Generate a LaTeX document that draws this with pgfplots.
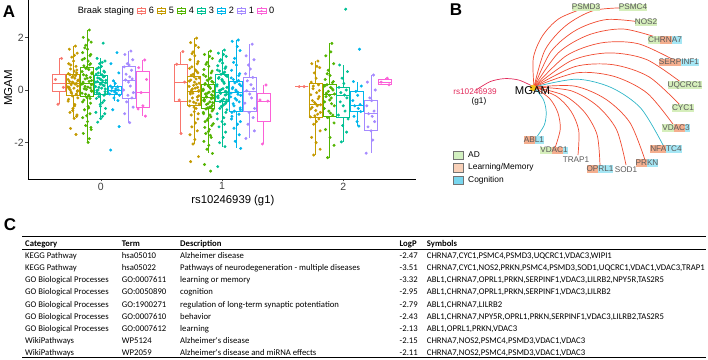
\documentclass[border=0pt]{standalone}
\usepackage{pgfplots}
\pgfplotsset{compat=1.18}
\usepgfplotslibrary{statistics}
\usepackage{fontspec}
\setmainfont{Liberation Sans}
\newfontfamily\tfont{Carlito}
\definecolor{c6}{HTML}{F8766D}
\definecolor{c5}{HTML}{C49A00}
\definecolor{c4}{HTML}{53B400}
\definecolor{c3}{HTML}{00C094}
\definecolor{c2}{HTML}{00B6EB}
\definecolor{c1}{HTML}{A58AFF}
\definecolor{c0}{HTML}{FB61D7}
\definecolor{edgeR}{HTML}{F04A30}
\definecolor{edgeC}{HTML}{2EB6C8}
\definecolor{rsR}{HTML}{E2295A}
\definecolor{hubY}{HTML}{F6C21A}
\definecolor{bgG}{HTML}{D5EEBB}
\definecolor{bgO}{HTML}{F4AE8E}
\definecolor{bgC}{HTML}{A5E6F4}
\definecolor{lgG}{HTML}{D2F0C0}
\definecolor{lgO}{HTML}{F8D0B8}
\definecolor{lgC}{HTML}{78D6EE}
\definecolor{gtxt}{HTML}{5A5A5A}
\newcommand\seg[2]{{\setlength{\fboxsep}{0pt}\colorbox{#1}{\rule[-1.7bp]{0pt}{7.6bp}#2}}}
\newcommand\fs[1]{\fontsize{#1bp}{#1bp}\selectfont}
\pgfplotsset{
  bx/.style={forget plot, draw=#1, fill=white, line width=0.55bp, solid, mark=none},
  pt/.style={forget plot, only marks, mark=*, mark size=1.3bp, color=#1, mark options={draw=none, fill=#1}},
}
\begin{document}
\begin{tikzpicture}
%================ Panel A =================
\begin{axis}[
  at={(28bp,181bp)}, anchor=south west, scale only axis,
  width=388bp, height=179bp,
  xmin=-0.6, xmax=2.6, ymin=-3.38, ymax=3.42,
  axis x line*=bottom, axis y line*=left,
  axis line style={-, line width=0.6bp, black},
  xtick={0,1,2}, ytick={-2,0,2},
  tick align=outside, major tick length=2.5bp,
  tick style={line width=0.5bp, black!70},
  ticklabel style={font=\fs{10.5}, text=black!75},
  xticklabel style={inner sep=1bp},
  yticklabel style={inner sep=1.5bp},
  /pgf/number format/assume math mode=true,
  xlabel={rs10246939 (g1)}, ylabel={MGAM},
  xlabel style={at={(axis description cs:0.528,-0.121)}, anchor=center, font=\fs{11.3}},
  ylabel style={at={(axis description cs:-0.051,0.51)}, anchor=center, font=\fs{11.5}},
  clip=false,
  boxplot/draw direction=y,
  boxplot/box extend=0.107, boxplot/whisker extend=0,
  legend columns=-1,
  legend style={at={(axis description cs:0.12,0.9385)}, anchor=west, draw=none, fill=none,
    font=\fs{9.2}, inner sep=0pt, column sep=2.5bp, nodes={inner sep=0.5bp}},
  legend image code/.code={%
    \draw[#1,line width=0.5bp,fill=white] (0bp,-2.6bp) rectangle (8.4bp,2.6bp);
    \draw[#1,line width=0.5bp] (0bp,0bp)--(8.4bp,0bp) (4.2bp,2.6bp)--(4.2bp,4.2bp) (4.2bp,-2.6bp)--(4.2bp,-4.2bp);
    \fill[#1] (4.2bp,0bp) circle (0.9bp);},
]
\addlegendimage{empty legend}\addlegendentry{Braak staging\hspace{2bp}}
\addlegendimage{color=c6}\addlegendentry{6\hspace{2bp}}
\addlegendimage{color=c5}\addlegendentry{5\hspace{2bp}}
\addlegendimage{color=c4}\addlegendentry{4\hspace{2bp}}
\addlegendimage{color=c3}\addlegendentry{3\hspace{2bp}}
\addlegendimage{color=c2}\addlegendentry{2\hspace{2bp}}
\addlegendimage{color=c1}\addlegendentry{1\hspace{2bp}}
\addlegendimage{color=c0}\addlegendentry{0}
% ---- boxes, group 0
\addplot[bx=c6, boxplot prepared={draw position=-0.343, lower whisker=-0.54, lower quartile=-0.06, median=0.27, upper quartile=0.61, upper whisker=1.2}] coordinates {};
\addplot[bx=c5, boxplot prepared={draw position=-0.229, lower whisker=-1.08, lower quartile=-0.19, median=0.25, upper quartile=0.6, upper whisker=1.67}] coordinates {};
\addplot[bx=c4, boxplot prepared={draw position=-0.114, lower whisker=-1.99, lower quartile=-0.22, median=0.25, upper quartile=0.85, upper whisker=2.28}] coordinates {};
\addplot[bx=c3, boxplot prepared={draw position=0, lower whisker=-1.08, lower quartile=-0.15, median=0.29, upper quartile=0.55, upper whisker=1.2}] coordinates {};
\addplot[bx=c2, boxplot prepared={draw position=0.114, lower whisker=-0.4, lower quartile=-0.15, median=0.0, upper quartile=0.15, upper whisker=0.35}] coordinates {};
\addplot[bx=c1, boxplot prepared={draw position=0.229, lower whisker=-1.24, lower quartile=-0.32, median=0.38, upper quartile=0.91, upper whisker=1.48}] coordinates {};
\addplot[bx=c0, boxplot prepared={draw position=0.343, lower whisker=-0.99, lower quartile=-0.66, median=-0.1, upper quartile=0.72, upper whisker=1.14}] coordinates {};
% ---- boxes, group 1
\addplot[bx=c6, boxplot prepared={draw position=0.657, lower whisker=-1.65, lower quartile=-0.41, median=0.3, upper quartile=0.98, upper whisker=1.46}] coordinates {};
\addplot[bx=c5, boxplot prepared={draw position=0.771, lower whisker=-2.05, lower quartile=-0.57, median=-0.03, upper quartile=0.51, upper whisker=1.97}] coordinates {};
\addplot[bx=c4, boxplot prepared={draw position=0.886, lower whisker=-2.41, lower quartile=-0.7, median=-0.29, upper quartile=0.22, upper whisker=1.48}] coordinates {};
\addplot[bx=c3, boxplot prepared={draw position=1.0, lower whisker=-2.15, lower quartile=-0.44, median=-0.1, upper quartile=0.6, upper whisker=1.52}] coordinates {};
\addplot[bx=c2, boxplot prepared={draw position=1.114, lower whisker=-2.22, lower quartile=-0.82, median=-0.1, upper quartile=0.35, upper whisker=1.9}] coordinates {};
\addplot[bx=c1, boxplot prepared={draw position=1.229, lower whisker=-1.84, lower quartile=-0.82, median=-0.03, upper quartile=0.48, upper whisker=1.74}] coordinates {};
\addplot[bx=c0, boxplot prepared={draw position=1.343, lower whisker=-2.05, lower quartile=-1.2, median=-0.41, upper quartile=-0.13, upper whisker=0.19}] coordinates {};
% ---- boxes, group 2
\addplot[bx=c6, boxplot prepared={draw position=1.657, lower whisker=0.13, lower quartile=0.13, median=0.13, upper quartile=0.13, upper whisker=0.13}] coordinates {};
\addplot[bx=c5, boxplot prepared={draw position=1.771, lower whisker=-2.47, lower quartile=-1.05, median=-0.55, upper quartile=0.25, upper whisker=1.1}] coordinates {};
\addplot[bx=c4, boxplot prepared={draw position=1.886, lower whisker=-2.57, lower quartile=-0.99, median=-0.18, upper quartile=0.22, upper whisker=1.77}] coordinates {};
\addplot[bx=c3, boxplot prepared={draw position=2.0, lower whisker=-1.97, lower quartile=-1.04, median=-0.19, upper quartile=0.09, upper whisker=0.95}] coordinates {};
\addplot[bx=c2, boxplot prepared={draw position=2.114, lower whisker=-1.37, lower quartile=-0.82, median=-0.57, upper quartile=-0.03, upper whisker=0.32}] coordinates {};
\addplot[bx=c1, boxplot prepared={draw position=2.229, lower whisker=-2.4, lower quartile=-1.52, median=-0.87, upper quartile=-0.38, upper whisker=0.57}] coordinates {};
\addplot[bx=c0, boxplot prepared={draw position=2.343, lower whisker=0.2, lower quartile=0.2, median=0.3, upper quartile=0.4, upper whisker=0.45}] coordinates {};
% ---- points, group 0
\addplot[pt=c6] coordinates {(-0.323,1.2) (-0.373,0.4) (-0.308,0.1) (-0.353,-0.54)};
\addplot[pt=c5] coordinates {(-0.209,1.67) (-0.259,1.55) (-0.194,1.4) (-0.239,1.25) (-0.224,1.1) (-0.264,1.0) (-0.204,0.9) (-0.249,0.8) (-0.219,0.72) (-0.199,0.65) (-0.254,0.58) (-0.229,0.52) (-0.214,0.45) (-0.269,0.4) (-0.189,0.35) (-0.234,0.3) (-0.201,0.25) (-0.244,0.2) (-0.191,0.15) (-0.261,0.1) (-0.261,0.05) (-0.191,-0.02) (-0.244,-0.08) (-0.201,-0.15) (-0.234,-0.22) (-0.189,-0.3) (-0.269,-0.42) (-0.214,-0.55) (-0.229,-0.7) (-0.254,-0.85) (-0.199,-1.0) (-0.219,-1.08) (-0.249,-1.46) (-0.204,-1.69)};
\addplot[pt=c5] coordinates {(-0.217,1.32) (-0.247,0.95) (-0.197,0.76) (-0.267,0.62) (-0.207,0.55) (-0.237,0.48) (-0.187,0.38) (-0.257,0.32) (-0.227,0.27) (-0.211,0.22) (-0.271,0.12) (-0.221,0.07) (-0.251,0.0) (-0.193,-0.05) (-0.241,-0.12) (-0.203,-0.18) (-0.265,-0.35) (-0.215,-0.6) (-0.231,-0.78) (-0.196,-0.95)};
\addplot[pt=c4] coordinates {(-0.094,2.28) (-0.144,2.0) (-0.079,1.82) (-0.124,1.7) (-0.109,1.55) (-0.149,1.42) (-0.089,1.3) (-0.134,1.2) (-0.104,1.1) (-0.084,1.0) (-0.139,0.92) (-0.114,0.86) (-0.099,0.78) (-0.154,0.7) (-0.074,0.62) (-0.119,0.55) (-0.086,0.48) (-0.129,0.42) (-0.076,0.36) (-0.146,0.3) (-0.146,0.25) (-0.076,0.2) (-0.129,0.14) (-0.086,0.08) (-0.119,0.02) (-0.074,-0.05) (-0.154,-0.12) (-0.099,-0.2) (-0.114,-0.28) (-0.139,-0.38) (-0.084,-0.5) (-0.104,-0.62) (-0.134,-0.75) (-0.089,-0.9) (-0.149,-1.05) (-0.109,-1.2) (-0.124,-1.35) (-0.079,-1.5) (-0.144,-1.65) (-0.094,-1.85) (-0.104,-1.99)};
\addplot[pt=c4] coordinates {(-0.102,1.9) (-0.132,1.6) (-0.082,1.35) (-0.152,1.15) (-0.092,0.96) (-0.122,0.82) (-0.072,0.66) (-0.142,0.58) (-0.112,0.45) (-0.096,0.33) (-0.156,0.22) (-0.106,0.11) (-0.136,0.05) (-0.078,-0.02) (-0.126,-0.16) (-0.088,-0.32) (-0.150,-0.45) (-0.100,-0.68) (-0.116,-0.98) (-0.081,-1.42)};
\addplot[pt=c3] coordinates {(0.02,1.78) (-0.03,1.2) (0.035,1.1) (-0.01,1.0) (0.005,0.9) (-0.035,0.8) (0.025,0.72) (-0.02,0.65) (0.01,0.58) (0.03,0.52) (-0.025,0.46) (0,0.4) (0.015,0.35) (-0.04,0.3) (0.04,0.27) (-0.005,0.22) (0.028,0.16) (-0.015,0.1) (0.038,0.04) (-0.032,-0.02) (-0.032,-0.1) (0.038,-0.15) (-0.015,-0.25) (0.028,-0.4) (-0.005,-0.55) (0.04,-0.7) (-0.04,-0.85) (0.015,-1.0) (0,-1.08) (-0.025,-1.22)};
\addplot[pt=c3] coordinates {(0.012,1.05) (-0.018,0.85) (0.032,0.68) (-0.038,0.6) (0.022,0.5) (-0.008,0.43) (0.042,0.37) (-0.028,0.32) (0.002,0.25) (0.018,0.19) (-0.042,0.13) (0.008,0.07) (-0.022,0.0) (0.036,-0.06) (-0.012,-0.13) (0.026,-0.2) (-0.036,-0.32) (0.014,-0.48) (-0.002,-0.62) (0.033,-0.9)};
\addplot[pt=c2] coordinates {(0.134,1.42) (0.084,1.0) (0.149,0.65) (0.104,0.35) (0.119,0.25) (0.079,0.15) (0.139,0.12) (0.094,0.08) (0.124,0.04) (0.144,0.0) (0.089,-0.03) (0.114,-0.07) (0.129,-0.12) (0.074,-0.15) (0.154,-0.2) (0.109,-0.3) (0.142,-0.4) (0.099,-0.75) (0.152,-1.39) (0.082,-2.28)};
\addplot[pt=c1] coordinates {(0.249,1.48) (0.199,1.35) (0.264,1.15) (0.219,1.0) (0.234,0.95) (0.194,0.88) (0.254,0.75) (0.209,0.6) (0.239,0.5) (0.259,0.42) (0.204,0.38) (0.229,0.3) (0.244,0.15) (0.189,0.0) (0.269,-0.1) (0.224,-0.2) (0.257,-0.3) (0.214,-0.45) (0.267,-0.65) (0.197,-0.9) (0.239,-1.24)};
\addplot[pt=c0] coordinates {(0.363,1.14) (0.313,0.85) (0.378,0.4) (0.333,-0.1) (0.348,-0.6) (0.308,-0.72) (0.368,-0.99)};
% ---- points, group 1
\addplot[pt=c6] coordinates {(0.677,1.46) (0.627,0.98) (0.692,0.3) (0.647,-0.38) (0.662,-1.65)};
\addplot[pt=c5] coordinates {(0.791,1.97) (0.741,1.8) (0.806,1.62) (0.761,1.45) (0.776,1.3) (0.736,1.15) (0.796,1.0) (0.751,0.88) (0.781,0.76) (0.801,0.65) (0.746,0.56) (0.771,0.5) (0.786,0.42) (0.731,0.34) (0.811,0.26) (0.766,0.18) (0.799,0.1) (0.756,0.04) (0.809,-0.02) (0.739,-0.08) (0.739,-0.15) (0.809,-0.22) (0.756,-0.3) (0.799,-0.38) (0.766,-0.46) (0.811,-0.53) (0.731,-0.6) (0.786,-0.7) (0.771,-0.82) (0.746,-0.95) (0.801,-1.1) (0.781,-1.25) (0.751,-1.4) (0.796,-1.55) (0.736,-1.7) (0.776,-1.88) (0.761,-2.05) (0.806,-2.53) (0.741,-2.72)};
\addplot[pt=c5] coordinates {(0.783,1.7) (0.753,1.38) (0.803,1.08) (0.733,0.82) (0.793,0.7) (0.763,0.6) (0.813,0.46) (0.743,0.38) (0.773,0.3) (0.789,0.22) (0.729,0.14) (0.779,0.07) (0.749,0.0) (0.807,-0.05) (0.759,-0.12) (0.797,-0.26) (0.735,-0.42) (0.785,-0.5) (0.769,-0.65) (0.804,-0.9)};
\addplot[pt=c4] coordinates {(0.906,1.48) (0.856,1.35) (0.921,1.2) (0.876,1.05) (0.891,0.9) (0.851,0.78) (0.911,0.65) (0.866,0.52) (0.896,0.42) (0.916,0.33) (0.861,0.25) (0.886,0.18) (0.901,0.1) (0.846,0.03) (0.926,-0.05) (0.881,-0.12) (0.914,-0.18) (0.871,-0.24) (0.924,-0.3) (0.854,-0.36) (0.854,-0.42) (0.924,-0.48) (0.871,-0.55) (0.914,-0.62) (0.881,-0.68) (0.926,-0.75) (0.846,-0.85) (0.901,-0.95) (0.886,-1.08) (0.861,-1.2) (0.916,-1.35) (0.896,-1.5) (0.866,-1.65) (0.911,-1.8) (0.851,-1.95) (0.891,-2.1) (0.876,-2.25) (0.921,-2.41) (0.856,-2.83) (0.906,-3.08)};
\addplot[pt=c4] coordinates {(0.898,1.28) (0.868,0.98) (0.918,0.72) (0.848,0.58) (0.908,0.46) (0.878,0.37) (0.928,0.29) (0.858,0.21) (0.888,0.14) (0.904,0.06) (0.844,-0.02) (0.894,-0.08) (0.864,-0.15) (0.922,-0.21) (0.874,-0.27) (0.912,-0.33) (0.850,-0.39) (0.900,-0.45) (0.884,-0.52) (0.919,-0.58) (0.898,-0.65) (0.868,-0.72) (0.918,-0.8) (0.848,-0.9) (0.908,-1.02) (0.878,-1.14) (0.928,-1.28) (0.858,-1.42) (0.888,-1.58) (0.904,-1.72)};
\addplot[pt=c3] coordinates {(1.02,1.52) (0.97,1.4) (1.035,1.28) (0.99,1.15) (1.005,1.02) (0.965,0.92) (1.025,0.82) (0.98,0.72) (1.01,0.64) (1.03,0.56) (0.975,0.48) (1.0,0.4) (1.015,0.3) (0.96,0.2) (1.04,0.1) (0.995,0.02) (1.028,-0.05) (0.985,-0.1) (1.038,-0.16) (0.968,-0.22) (0.968,-0.3) (1.038,-0.38) (0.985,-0.44) (1.028,-0.52) (0.995,-0.62) (1.04,-0.75) (0.96,-0.9) (1.015,-1.05) (1.0,-1.2) (0.975,-1.4) (1.03,-1.6) (1.01,-1.8) (0.98,-2.0) (1.025,-2.15) (0.965,-2.91)};
\addplot[pt=c3] coordinates {(1.012,1.35) (0.982,1.1) (1.032,0.88) (0.962,0.76) (1.022,0.68) (0.992,0.6) (1.042,0.52) (0.972,0.44) (1.002,0.35) (1.018,0.25) (0.958,0.15) (1.008,0.05) (0.978,-0.02) (1.036,-0.07) (0.988,-0.13) (1.026,-0.19) (0.964,-0.26) (1.014,-0.34) (0.998,-0.4) (1.033,-0.48) (1.012,-0.57) (0.982,-0.7) (1.032,-0.85) (0.962,-1.1) (1.022,-1.3)};
\addplot[pt=c2] coordinates {(1.134,1.9) (1.084,1.85) (1.149,1.5) (1.104,1.2) (1.119,0.95) (1.079,0.75) (1.139,0.55) (1.094,0.4) (1.124,0.32) (1.144,0.22) (1.089,0.1) (1.114,0.0) (1.129,-0.08) (1.074,-0.12) (1.154,-0.2) (1.109,-0.32) (1.142,-0.45) (1.099,-0.6) (1.152,-0.75) (1.082,-0.85) (1.082,-1.0) (1.152,-1.2) (1.099,-1.45) (1.142,-1.7) (1.109,-1.95) (1.154,-2.22)};
\addplot[pt=c2] coordinates {(1.126,1.65) (1.096,1.05) (1.146,0.62) (1.076,0.46) (1.136,0.36) (1.106,0.27) (1.156,0.16) (1.086,0.05) (1.116,-0.04) (1.132,-0.16) (1.072,-0.26) (1.122,-0.38) (1.092,-0.52) (1.150,-0.68) (1.102,-0.8) (1.140,-0.92) (1.078,-1.1) (1.128,-1.3)};
\addplot[pt=c1] coordinates {(1.249,1.74) (1.199,1.3) (1.264,1.15) (1.219,0.95) (1.234,0.8) (1.194,0.62) (1.254,0.48) (1.209,0.35) (1.239,0.2) (1.259,0.05) (1.204,-0.03) (1.229,-0.15) (1.244,-0.3) (1.189,-0.5) (1.269,-0.7) (1.224,-0.85) (1.257,-1.05) (1.214,-1.3) (1.267,-1.55) (1.197,-1.84)};
\addplot[pt=c0] coordinates {(1.363,0.19) (1.313,-0.38) (1.378,-0.42) (1.333,-2.05)};
% ---- points, group 2
\addplot[pt=c6] coordinates {(1.677,0.13) (1.637,0.13)};
\addplot[pt=c5] coordinates {(1.791,1.1) (1.741,1.0) (1.806,0.85) (1.761,0.65) (1.776,0.45) (1.736,0.3) (1.796,0.2) (1.751,0.05) (1.781,-0.1) (1.801,-0.25) (1.746,-0.4) (1.771,-0.52) (1.786,-0.6) (1.731,-0.72) (1.811,-0.85) (1.766,-0.98) (1.799,-1.1) (1.756,-1.3) (1.809,-1.55) (1.739,-1.8) (1.776,-2.0) (1.809,-2.25) (1.756,-2.47)};
\addplot[pt=c5] coordinates {(1.783,0.9) (1.753,0.15) (1.803,-0.02) (1.733,-0.18) (1.793,-0.33) (1.763,-0.47) (1.813,-0.56) (1.743,-0.66) (1.773,-0.78) (1.789,-0.92) (1.729,-1.02) (1.779,-1.2)};
\addplot[pt=c4] coordinates {(1.906,1.77) (1.856,1.3) (1.921,1.0) (1.876,0.75) (1.891,0.55) (1.851,0.4) (1.911,0.28) (1.866,0.2) (1.896,0.1) (1.916,0.0) (1.861,-0.12) (1.886,-0.2) (1.901,-0.3) (1.846,-0.45) (1.926,-0.6) (1.881,-0.8) (1.914,-0.95) (1.871,-1.05) (1.924,-1.25) (1.854,-1.5) (1.891,-1.8) (1.924,-2.1) (1.871,-2.57)};
\addplot[pt=c4] coordinates {(1.898,1.45) (1.868,0.62) (1.918,0.32) (1.848,0.15) (1.908,0.05) (1.878,-0.05) (1.928,-0.15) (1.858,-0.25) (1.888,-0.38) (1.904,-0.52) (1.844,-0.7) (1.894,-0.88)};
\addplot[pt=c3] coordinates {(2.02,3.07) (1.97,0.95) (2.035,0.7) (1.99,0.45) (2.005,0.25) (1.965,0.1) (2.025,0.0) (1.98,-0.1) (2.01,-0.19) (2.03,-0.3) (1.975,-0.45) (2.0,-0.6) (2.015,-0.8) (1.96,-0.95) (2.04,-1.1) (1.995,-1.35) (2.028,-1.6) (1.985,-1.97)};
\addplot[pt=c2] coordinates {(2.134,1.55) (2.084,0.32) (2.149,0.15) (2.104,-0.05) (2.119,-0.2) (2.079,-0.4) (2.139,-0.55) (2.094,-0.6) (2.124,-0.7) (2.144,-0.82) (2.089,-1.0) (2.114,-1.2) (2.129,-1.37)};
\addplot[pt=c1] coordinates {(2.249,0.57) (2.199,0.3) (2.264,0.0) (2.219,-0.3) (2.234,-0.4) (2.194,-0.6) (2.254,-0.8) (2.209,-0.9) (2.239,-1.0) (2.259,-1.2) (2.204,-1.4) (2.229,-1.55) (2.244,-1.9) (2.189,-2.4)};
\addplot[pt=c0] coordinates {(2.363,0.45) (2.313,0.3) (2.378,0.2)};
\end{axis}
%================ Panel B (pixel coordinates) =================
\begin{axis}[
  at={(0bp,0bp)}, anchor=south west, scale only axis,
  width=708bp, height=360bp,
  xmin=0, xmax=708, ymin=0, ymax=360, y dir=reverse,
  hide axis, clip=false,
  legend style={at={(axis cs:453,150.5)}, anchor=north west, draw=none, fill=none,
    font=\fs{8.4}, inner sep=0pt, row sep=3.6bp, column sep=4bp, nodes={inner sep=0.5bp}},
  legend cell align=left,
  legend image code/.code={\draw[#1,line width=0.5bp] (0bp,-4.2bp) rectangle (10bp,4.2bp);},
]
\addlegendimage{draw=black!55, fill=lgG}\addlegendentry{AD}
\addlegendimage{draw=black!55, fill=lgO}\addlegendentry{Learning/Memory}
\addlegendimage{draw=black!55, fill=lgC}\addlegendentry{Cognition}
\pgfplotsset{edge/.style={forget plot, smooth, line width=0.7bp, color=#1}}
\addplot[edge=rsR] coordinates {(476,90) (490.1,81.65) (504.5,78.6) (519.1,80.15) (534,87)};
\addplot[edge=edgeR] coordinates {(534,87) (533.3,58.1) (542.5,35.8) (559.3,18.4) (586,7.5)};
\addplot[edge=edgeR] coordinates {(534,87) (545.0,50.0) (566,25.5) (594.5,10.3) (633,7.5)};
\addplot[edge=edgeR] coordinates {(534,87) (550.9,51.6) (575.9,30.2) (606.9,19.5) (646,22.7)};
\addplot[edge=edgeR] coordinates {(534,87) (558.6,52.6) (589.2,34.7) (624.1,29.1) (665,40)};
\addplot[edge=edgeR] coordinates {(534,87) (566.0,55.9) (601.2,42.9) (638.5,43.8) (679,62.7)};
\addplot[edge=edgeR] coordinates {(534,87) (571.4,60.6) (609.1,52.9) (646.9,59.7) (685,85.3)};
\addplot[edge=edgeR] coordinates {(534,87) (574.9,66.6) (613.1,64.7) (649.4,77.1) (683,108)};
\addplot[edge=edgeR] coordinates {(534,87) (576.6,72.8) (614.1,76.4) (647.6,93.5) (676,128.3)};
\addplot[edge=edgeC] coordinates {(534,87) (576.3,79.2) (611.3,87.6) (640.8,108.2) (663,145)};
\addplot[edge=edgeR] coordinates {(534,87) (574.4,86.1) (605.6,99.1) (629.9,122.6) (645,160)};
\addplot[edge=edgeR] coordinates {(534,87) (570.5,90.6) (597.2,105.8) (616.5,129.6) (626,165)};
\addplot[edge=edgeR] coordinates {(534,87) (564.1,95.4) (584.4,112) (597.1,134.9) (600,166)};
\addplot[edge=edgeR] coordinates {(534,87) (556.7,96.4) (571,111.3) (578.7,130.4) (578,155)};
\addplot[edge=edgeR] coordinates {(534,87) (549.75,98.65) (557.9,112.9) (560.25,129.15) (555,148)};
\addplot[edge=edgeC] coordinates {(534,87) (543.3,99.45) (546.2,112.1) (544.3,124.95) (536,138)};
\addplot[forget plot, only marks, mark=*, mark size=3bp, color=hubY] coordinates {(533,88)};
\end{axis}
%================ texts in pixel coordinates =================
\begin{scope}[x=1bp, y=-1bp, shift={(0bp,360bp)}]
\node[font=\fs{17}\bfseries] at (9,12) {A};
\node[font=\fs{17}\bfseries] at (456,9.5) {B};
\node[font=\fs{17}\bfseries] at (10,225) {C};
% network labels
\node[font=\fs{11.3}] at (532.5,91) {MGAM};
\node[font=\fs{8.2}, text=rsR] at (475,91.7) {rs10246939};
\node[font=\fs{8.2}] at (479,101.7) {(g1)};
\begin{scope}[every node/.style={font=\fs{8.2}, text=gtxt, inner sep=0pt}]
\node at (586,7.5) {\seg{bgG}{PSMD3}};
\node at (633,7.5) {\seg{bgG}{PSMC4}};
\node at (646,22.7) {\seg{bgG}{NOS2}};
\node at (665,40) {\seg{bgG}{CH}\seg{bgO}{RN}\seg{bgC}{A7}};
\node at (679,62.7) {\seg{bgO}{SERP}\seg{bgC}{INF1}};
\node at (685,85.3) {\seg{bgG}{UQCRC1}};
\node at (683,108) {\seg{bgG}{CYC1}};
\node at (676,128.3) {\seg{bgG}{VD}\seg{bgO}{AC}\seg{bgC}{3}};
\node at (666,149.3) {\seg{bgO}{NFA}\seg{bgC}{TC4}};
\node at (647,163.3) {\seg{bgO}{PR}\seg{bgC}{KN}};
\node at (626,170) {SOD1};
\node at (600,169.3) {\seg{bgO}{OP}\seg{bgC}{RL1}};
\node at (576,160) {TRAP1};
\node at (554,150.7) {\seg{bgG}{VD}\seg{bgO}{AC}\seg{bgC}{1}};
\node at (534,140) {\seg{bgO}{AB}\seg{bgC}{L1}};
\end{scope}
% table
\draw[line width=1.1bp] (22,236.8) -- (706,236.8);
\draw[line width=0.6bp] (22,249.6) -- (706,249.6);
\draw[line width=1.1bp] (22,357.8) -- (706,357.8);
\begin{scope}[every node/.style={anchor=base west, inner sep=0pt, font=\tfont\fs{8.7}}]
\node[font=\tfont\fs{8.7}\bfseries] at (25,247) {Category};
\node[font=\tfont\fs{8.7}\bfseries] at (121.7,247) {Term};
\node[font=\tfont\fs{8.7}\bfseries] at (180,247) {Description};
\node[font=\tfont\fs{8.7}\bfseries] at (399.5,247) {LogP};
\node[font=\tfont\fs{8.7}\bfseries] at (426.7,247) {Symbols};
\node at (25,258.3) {KEGG Pathway};
\node at (121.7,258.3) {hsa05010};
\node at (180,258.3) {Alzheimer disease};
\node at (399.5,258.3) {-2.47};
\node at (426.7,258.3) {CHRNA7,CYC1,PSMC4,PSMD3,UQCRC1,VDAC3,WIPI1};
\node at (25,270.5) {KEGG Pathway};
\node at (121.7,270.5) {hsa05022};
\node at (180,270.5) {Pathways of neurodegeneration - multiple diseases};
\node at (399.5,270.5) {-3.51};
\node at (426.7,270.5) {CHRNA7,CYC1,NOS2,PRKN,PSMC4,PSMD3,SOD1,UQCRC1,VDAC1,VDAC3,TRAP1};
\node at (25,282.7) {GO Biological Processes};
\node at (121.7,282.7) {GO:0007611};
\node at (180,282.7) {learning or memory};
\node at (399.5,282.7) {-3.32};
\node at (426.7,282.7) {ABL1,CHRNA7,OPRL1,PRKN,SERPINF1,VDAC3,LILRB2,NPY5R,TAS2R5};
\node at (25,294.9) {GO Biological Processes};
\node at (121.7,294.9) {GO:0050890};
\node at (180,294.9) {cognition};
\node at (399.5,294.9) {-2.95};
\node at (426.7,294.9) {ABL1,CHRNA7,OPRL1,PRKN,SERPINF1,VDAC3,LILRB2};
\node at (25,307.1) {GO Biological Processes};
\node at (121.7,307.1) {GO:1900271};
\node at (180,307.1) {regulation of long-term synaptic potentiation};
\node at (399.5,307.1) {-2.79};
\node at (426.7,307.1) {ABL1,CHRNA7,LILRB2};
\node at (25,319.3) {GO Biological Processes};
\node at (121.7,319.3) {GO:0007610};
\node at (180,319.3) {behavior};
\node at (399.5,319.3) {-2.43};
\node at (426.7,319.3) {ABL1,CHRNA7,NPY5R,OPRL1,PRKN,SERPINF1,VDAC3,LILRB2,TAS2R5};
\node at (25,331.5) {GO Biological Processes};
\node at (121.7,331.5) {GO:0007612};
\node at (180,331.5) {learning};
\node at (399.5,331.5) {-2.13};
\node at (426.7,331.5) {ABL1,OPRL1,PRKN,VDAC3};
\node at (25,343.7) {WikiPathways};
\node at (121.7,343.7) {WP5124};
\node at (180,343.7) {Alzheimer's disease};
\node at (399.5,343.7) {-2.15};
\node at (426.7,343.7) {CHRNA7,NOS2,PSMC4,PSMD3,VDAC1,VDAC3};
\node at (25,355.9) {WikiPathways};
\node at (121.7,355.9) {WP2059};
\node at (180,355.9) {Alzheimer's disease and miRNA effects};
\node at (399.5,355.9) {-2.11};
\node at (426.7,355.9) {CHRNA7,NOS2,PSMC4,PSMD3,VDAC1,VDAC3};
\end{scope}
\end{scope}
\pgfresetboundingbox
\path[use as bounding box] (0bp,0bp) rectangle (708bp,360bp);
\end{tikzpicture}
\end{document}
